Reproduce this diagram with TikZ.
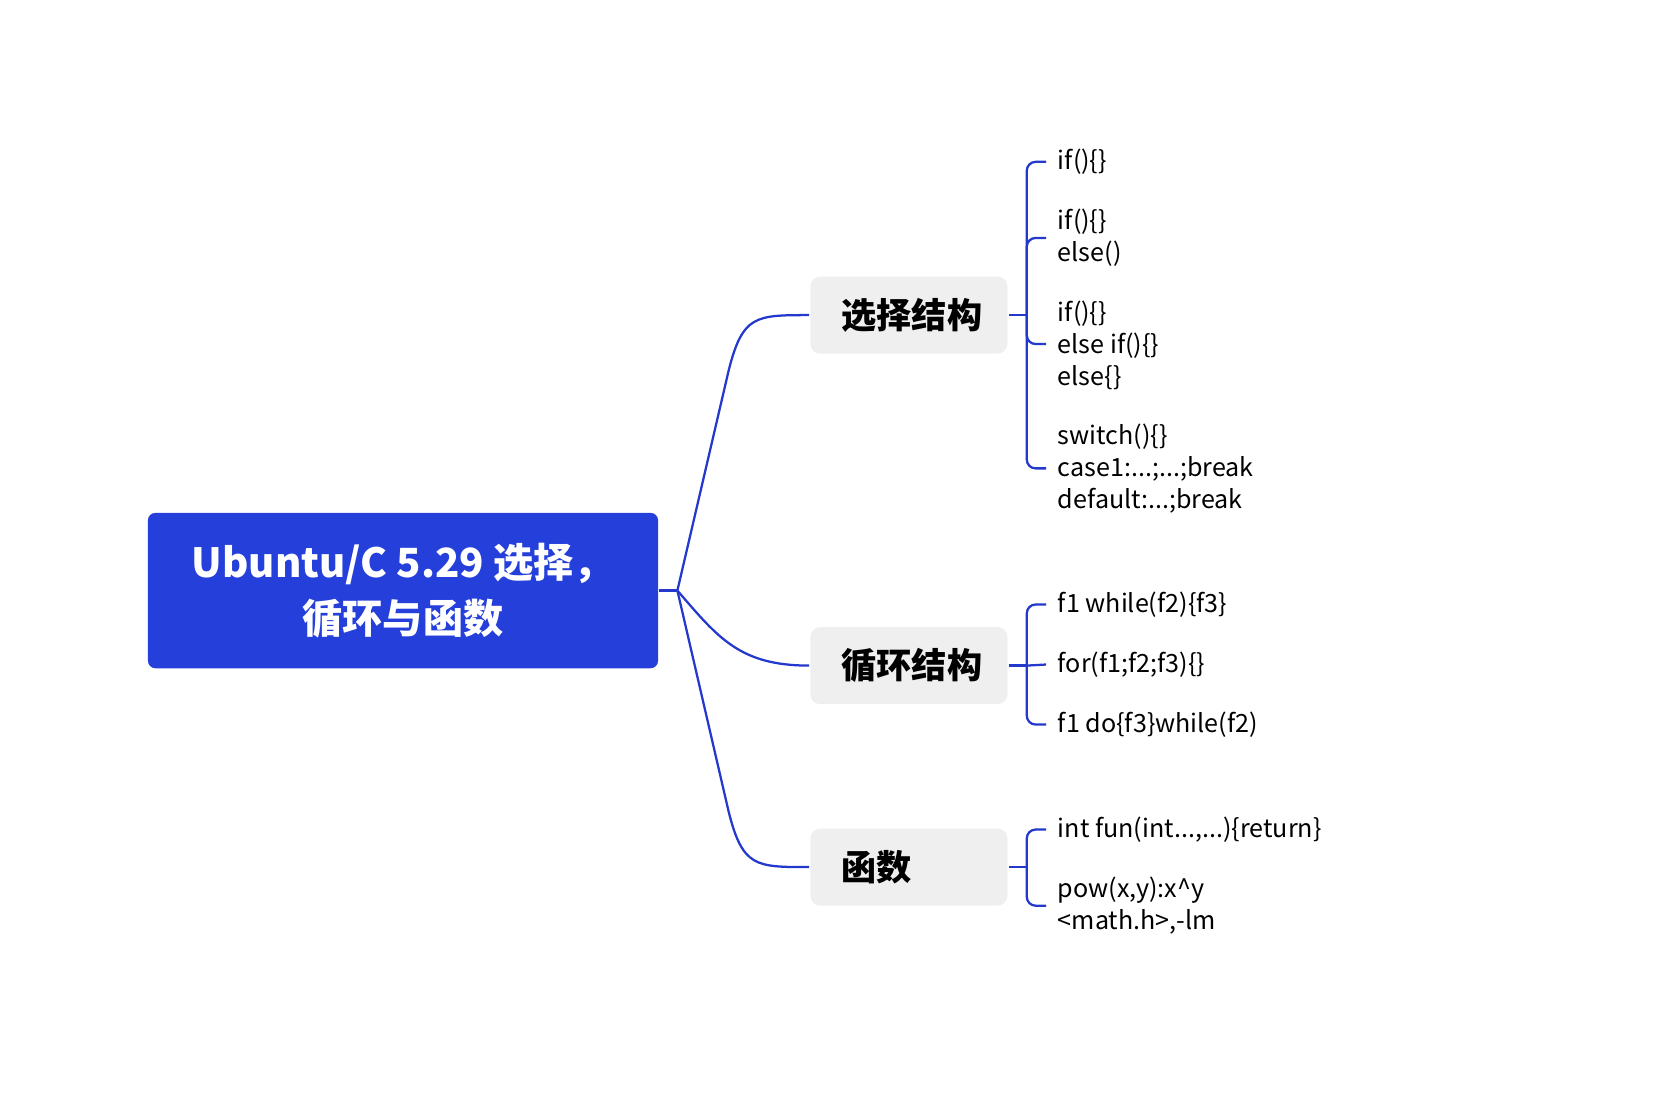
\documentclass[tikz,border=0pt]{standalone}
\usepackage{fontspec}
\setmainfont{Noto Sans CJK SC}
\usetikzlibrary{positioning}
\definecolor{rootblue}{HTML}{2540DA}
\definecolor{lineblue}{HTML}{2338CC}
\definecolor{topicgray}{HTML}{EFEFEF}

\begin{document}
\begin{tikzpicture}[
    x = 0.3mm, y = -0.3mm,
    line width = 1.8pt,
    root/.style = {fill = rootblue, text = white, rounded corners = 6pt,
        minimum width = 476*0.3mm, minimum height = 145*0.3mm,
        align = center, font = \fontsize{32}{44}\selectfont\bfseries},
    topic/.style = {fill = topicgray, rounded corners = 8pt,
        minimum width = 184*0.3mm, minimum height = 72*0.3mm,
        text width = 184*0.3mm - 50pt, align = left, inner sep = 0pt,
        font = \fontsize{28}{32}\selectfont\bfseries},
    leaf/.style = {anchor = west, align = left, inner sep = 0pt,
        font = \fontsize{20}{25.5}\selectfont},
    link/.style = {draw = lineblue},
    twig/.style = {draw = lineblue, rounded corners = 7pt}
    ]
    \useasboundingbox (0,0) rectangle (1560,1040);

    % centre and topics
    \node[root] (c) at (376,551) {Ubuntu/C 5.29 选择，\\循环与函数};
    \node[topic] (t1) at (848,294) {选择结构};
    \node[topic] (t2) at (848,621) {循环结构};
    \node[topic] (t3) at (848,809) {函数};

    \coordinate (hub) at (632,551);
    \draw[link] (c.east) -- (hub);
    \draw[link] (hub) -- (680,345) .. controls (693,294) and (705,294) .. (t1.west);
    \draw[link] (hub) .. controls (670,595) and (690,621) .. (t2.west);
    \draw[link] (hub) -- (680,758) .. controls (693,809) and (705,809) .. (t3.west);

    % leaves
    \node[leaf] (a1) at (986,151) {if()\{\}};
    \node[leaf] (a2) at (986,222) {if()\{\}\\else()};
    \node[leaf] (a3) at (986,322) {if()\{\}\\else if()\{\}\\else\{\}};
    \node[leaf] (a4) at (986,437) {switch()\{\}\\case1:...;...;break\\default:...;break};
    \node[leaf] (b1) at (986,564) {f1 while(f2)\{f3\}};
    \node[leaf] (b2) at (986,620) {for(f1;f2;f3)\{\}};
    \node[leaf] (b3) at (986,676) {f1 do\{f3\}while(f2)};
    \node[leaf] (d1) at (986,774) {int fun(int...,...)\{return\}};
    \node[leaf] (d2) at (986,845) {pow(x,y):x\^{}y\\<math.h>,-lm};

    \coordinate (j1) at (958,294);
    \coordinate (j2) at (958,621);
    \coordinate (j3) at (958,809);
    \draw[link] (t1.east) -- (j1);
    \draw[link] (t2.east) -- (j2);
    \draw[link] (t3.east) -- (j3);
    \draw[twig] (j1) |- (976,151);
    \draw[twig] (j1) |- (976,222);
    \draw[twig] (j1) |- (976,321);
    \draw[twig] (j1) |- (976,437);
    \draw[twig] (j2) |- (976,564);
    \draw[twig] (j2) -- (976,620);
    \draw[twig] (j2) |- (976,676);
    \draw[twig] (j3) |- (976,774);
    \draw[twig] (j3) |- (976,845);
\end{tikzpicture}
\end{document}
